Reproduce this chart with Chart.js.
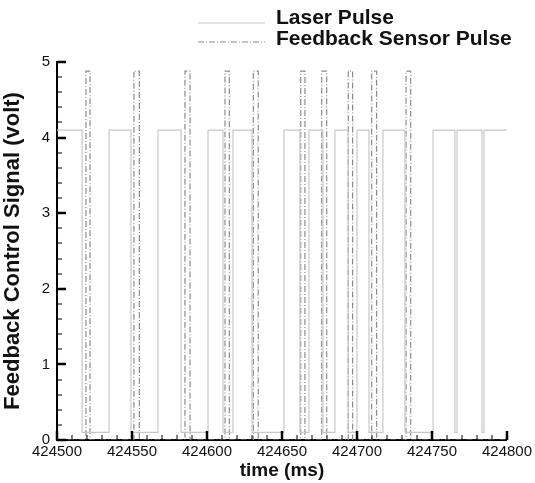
<!DOCTYPE html>
<html>
<head>
<meta charset="utf-8">
<script src="https://cdn.jsdelivr.net/npm/chart.js@4/dist/chart.umd.min.js"></script>
<style>
  html, body { margin: 0; padding: 0; background: #fff; }
  #wrap { width: 535px; height: 483px; position: relative; }
</style>
</head>
<body>
<div id="wrap"><canvas id="pulseChart" width="535" height="483"></canvas></div>
<script>
// x range and ticks
const timeMin = 424500;
const timeMax = 424800;
const timeMajorStep = 50;
const timeMinorStep = 10;
const voltMin = 0;
const voltMax = 5;
const voltMajorStep = 1;
const voltMinorStep = 0.2;

const seriesNames = ['Laser Pulse', 'Feedback Sensor Pulse'];

// laser pulse, square wave (time ms, volt)
const laserTime = [
  424500, 424516.7, 424516.7, 424534.7, 424534.7, 424549.3, 424549.3, 424567.3,
  424567.3, 424582.7, 424582.7, 424600.7, 424600.7, 424610.7, 424610.7, 424617.3,
  424617.3, 424630, 424630, 424651.3, 424651.3, 424662, 424662, 424668,
  424668, 424677.3, 424677.3, 424685.3, 424685.3, 424694, 424694, 424700,
  424700, 424708, 424708, 424717.3, 424717.3, 424732, 424732, 424750.7,
  424750.7, 424765.3, 424765.3, 424766.7, 424766.7, 424783.3, 424783.3, 424784.7,
  424784.7, 424800
];
const laserVolt = [
  4.1, 4.1, 0.1, 0.1, 4.1, 4.1, 0.1, 0.1,
  4.1, 4.1, 0.1, 0.1, 4.1, 4.1, 0.1, 0.1,
  4.1, 4.1, 0.1, 0.1, 4.1, 4.1, 0.1, 0.1,
  4.1, 4.1, 0.1, 0.1, 4.1, 4.1, 0.1, 0.1,
  4.1, 4.1, 0.1, 0.1, 4.1, 4.1, 0.1, 0.1,
  4.1, 4.1, 0.1, 0.1, 4.1, 4.1, 0.1, 0.1,
  4.1, 4.1
];

// feedback sensor pulse (time ms, volt)
const feedbackTime = [
  424500,
  424519.3, 424519.3, 424522, 424522,
  424551.3, 424551.3, 424554.9, 424554.9,
  424585.3, 424585.3, 424588.7, 424588.7,
  424612, 424612, 424614.9, 424614.9,
  424630.9, 424630.9, 424634.2, 424634.2,
  424662.5, 424662.5, 424665.3, 424665.3,
  424676.5, 424676.5, 424679.8, 424679.8,
  424694.2, 424694.2, 424697.1, 424697.1,
  424709.8, 424709.8, 424713.1, 424713.1,
  424732.7, 424732.7, 424735.8, 424735.8,
  424800
];
const feedbackVolt = [
  0,
  0, 4.88, 4.88, 0,
  0, 4.88, 4.88, 0,
  0, 4.88, 4.88, 0,
  0, 4.88, 4.88, 0,
  0, 4.88, 4.88, 0,
  0, 4.88, 4.88, 0,
  0, 4.88, 4.88, 0,
  0, 4.88, 4.88, 0,
  0, 4.88, 4.88, 0,
  0, 4.88, 4.88, 0,
  0
];

const FONT = '"Liberation Sans", Arial, Helvetica, sans-serif';
const laserColor = '#c8c8c8';
const feedbackColor = '#8c8c8c';
const feedbackDash = [6, 2, 1, 2];

function toPoints(xs, ys) {
  return xs.map((x, i) => ({ x: x, y: ys[i] }));
}

// inward tick marks, like the original plot
const inwardTicks = {
  id: 'inwardTicks',
  afterDatasetsDraw(chart) {
    const ctx = chart.ctx;
    const xs = chart.scales.x;
    const ys = chart.scales.y;
    const area = chart.chartArea;
    ctx.save();
    ctx.strokeStyle = '#000';
    for (let v = timeMin; v <= timeMax + 0.001; v += timeMinorStep) {
      const major = Math.abs(v % timeMajorStep) < 0.001;
      const px = Math.round(xs.getPixelForValue(v));
      ctx.lineWidth = major ? 2.5 : 1;
      ctx.beginPath();
      ctx.moveTo(px, area.bottom);
      ctx.lineTo(px, area.bottom - (major ? 9 : 5));
      ctx.stroke();
    }
    for (let i = 0; i <= Math.round((voltMax - voltMin) / voltMinorStep); i++) {
      const v = voltMin + i * voltMinorStep;
      const major = i % Math.round(voltMajorStep / voltMinorStep) === 0;
      const py = Math.round(ys.getPixelForValue(v));
      ctx.lineWidth = major ? 2.5 : 1;
      ctx.beginPath();
      ctx.moveTo(area.left, py);
      ctx.lineTo(area.left + (major ? 9 : 5), py);
      ctx.stroke();
    }
    ctx.restore();
  }
};

// legend at top right: line sample + label
const topLegend = {
  id: 'topLegend',
  afterDraw(chart) {
    const ctx = chart.ctx;
    ctx.save();
    ctx.font = 'bold 21px ' + FONT;
    ctx.fillStyle = '#111';
    ctx.textBaseline = 'middle';
    const rows = [
      { y: 18, lineY: 23, color: laserColor, dash: [] },
      { y: 39, lineY: 42, color: feedbackColor, dash: feedbackDash }
    ];
    rows.forEach((r, i) => {
      ctx.strokeStyle = r.color;
      ctx.lineWidth = 1.2;
      ctx.setLineDash(r.dash);
      ctx.beginPath();
      ctx.moveTo(198, r.lineY);
      ctx.lineTo(265, r.lineY);
      ctx.stroke();
      ctx.setLineDash([]);
      ctx.fillText(seriesNames[i], 276, r.y);
    });
    ctx.restore();
  }
};

const chart = new Chart(document.getElementById('pulseChart'), {
  type: 'line',
  data: {
    datasets: [
      {
        label: seriesNames[0],
        data: toPoints(laserTime, laserVolt),
        borderColor: laserColor,
        borderWidth: 1.2,
        pointRadius: 0,
        tension: 0,
        fill: false
      },
      {
        label: seriesNames[1],
        data: toPoints(feedbackTime, feedbackVolt),
        borderColor: feedbackColor,
        borderWidth: 1.2,
        borderDash: feedbackDash,
        pointRadius: 0,
        tension: 0,
        fill: false
      }
    ]
  },
  options: {
    responsive: false,
    animation: false,
    devicePixelRatio: 1,
    layout: { padding: { left: 0, top: 62, right: 28, bottom: 0 } },
    plugins: {
      legend: { display: false },
      tooltip: { enabled: false }
    },
    scales: {
      x: {
        type: 'linear',
        min: timeMin,
        max: timeMax,
        afterFit: (s) => { s.height = 43; },
        border: { display: true, color: '#000', width: 2 },
        grid: { display: true, drawOnChartArea: false, drawTicks: false, color: 'rgba(0,0,0,0)' },
        ticks: {
          stepSize: timeMajorStep,
          autoSkip: false,
          maxRotation: 0,
          padding: 3,
          color: '#111',
          font: { family: FONT, size: 15 },
          callback: (v) => String(v)
        },
        title: {
          display: true,
          text: 'time (ms)',
          color: '#111',
          font: { family: FONT, size: 19, weight: 'bold' },
          padding: { top: 0, bottom: 1 }
        }
      },
      y: {
        min: voltMin,
        max: voltMax,
        afterFit: (s) => { s.width = 57; },
        border: { display: true, color: '#000', width: 2 },
        grid: { display: true, drawOnChartArea: false, drawTicks: false, color: 'rgba(0,0,0,0)' },
        ticks: {
          stepSize: voltMajorStep,
          padding: 7,
          color: '#111',
          font: { family: FONT, size: 15 }
        },
        title: {
          display: true,
          text: 'Feedback Control Signal (volt)',
          color: '#111',
          font: { family: FONT, size: 22, weight: 'bold' },
          padding: { top: 0, bottom: 4 }
        }
      }
    }
  },
  plugins: [inwardTicks, topLegend]
});
</script>
</body>
</html>
